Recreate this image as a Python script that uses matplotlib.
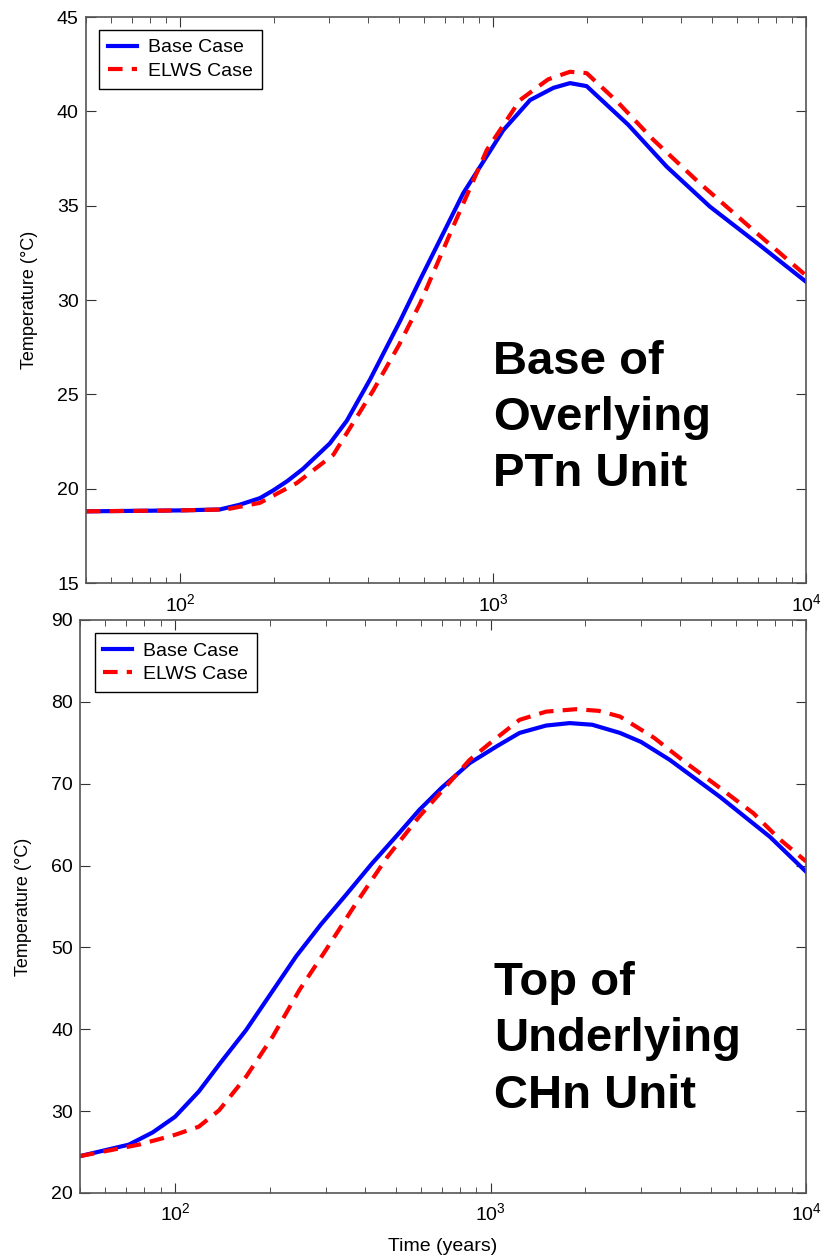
import matplotlib
matplotlib.use("Agg")
import matplotlib.pyplot as plt
from matplotlib.ticker import LogLocator, NullFormatter, MultipleLocator

plt.rcParams['font.family'] = ['Liberation Sans', 'DejaVu Sans']
plt.rcParams['mathtext.fontset'] = 'custom'
plt.rcParams['mathtext.rm'] = 'Liberation Sans'

# top panel: base of overlying PTn unit
t_base_top = [50, 100, 134, 155, 180, 198, 220, 247, 301, 341, 405, 505, 584, 803, 1078, 1313, 1560, 1762, 1991, 2700, 3589, 4933, 7000, 10000]
T_base_top = [18.8, 18.85, 18.9, 19.15, 19.5, 19.9, 20.4, 21.05, 22.4, 23.6, 25.8, 28.9, 31.06, 35.66, 39.0, 40.6, 41.25, 41.5, 41.34, 39.3, 37.07, 34.95, 33.0, 30.97]
t_elws_top = [50, 100, 140, 180, 236, 309, 414, 500, 584, 746, 955, 1219, 1500, 1762, 1991, 2500, 3250, 4500, 6792, 10000]
T_elws_top = [18.8, 18.85, 18.9, 19.25, 20.3, 21.8, 25.2, 27.6, 29.8, 33.9, 37.95, 40.6, 41.7, 42.1, 42.03, 40.5, 38.5, 36.3, 33.7, 31.3]

# bottom panel: top of underlying CHn unit
t_base_bot = [50, 71.4, 85, 100, 119, 140, 168, 200, 242, 290, 348, 420, 514, 595, 700, 858, 1050, 1236, 1500, 1782, 2100, 2572, 3000, 3702, 5333, 7686, 10000]
T_base_bot = [24.5, 25.9, 27.4, 29.3, 32.4, 36.0, 39.9, 44.2, 48.9, 52.8, 56.4, 60.2, 64.0, 66.8, 69.5, 72.5, 74.6, 76.2, 77.1, 77.4, 77.2, 76.2, 75.1, 72.9, 68.4, 63.5, 59.25]
t_elws_bot = [50, 76.8, 100, 119, 138, 168, 204, 248, 301, 375, 470, 595, 858, 1000, 1236, 1500, 1871, 2200, 2572, 3300, 4178, 5200, 6806, 8200, 10000]
T_elws_bot = [24.5, 25.9, 27.1, 28.1, 30.1, 34.2, 39.1, 44.8, 49.7, 55.4, 61.0, 66.0, 72.9, 75.0, 77.8, 78.8, 79.1, 78.9, 78.2, 75.6, 72.5, 69.8, 66.4, 63.3, 60.5]

fig = plt.figure(figsize=(8.25, 12.56), dpi=100)
ax1 = fig.add_axes([0.104, 0.5358, 0.873, 0.4506])
ax2 = fig.add_axes([0.097, 0.0502, 0.880, 0.4562])


def style(ax, ylo, yhi, ystep):
    ax.set_xscale('log')
    ax.set_xlim(50, 1e4)
    ax.set_ylim(ylo, yhi)
    ax.yaxis.set_major_locator(MultipleLocator(ystep))
    ax.xaxis.set_minor_locator(LogLocator(base=10, subs=range(2, 10)))
    ax.xaxis.set_minor_formatter(NullFormatter())
    ax.tick_params(which='both', direction='in', top=True, right=True, colors='#333333', labelcolor='black')
    ax.tick_params(which='major', length=7, labelsize=14)
    ax.tick_params(which='minor', length=4)
    ax.tick_params(axis='x', pad=7)
    ax.tick_params(axis='y', pad=5)
    for s in ax.spines.values():
        s.set_color('#555555')
        s.set_linewidth(1.2)
    ax.set_ylabel('Temperature (°C)', fontsize=13, labelpad=14)


def add_legend(ax, x0):
    ax.legend(loc='upper left', fontsize=14, frameon=True, fancybox=False, edgecolor='black',
              framealpha=1, borderpad=0.45, handlelength=1.5, handletextpad=0.55, labelspacing=0.3,
              borderaxespad=0, bbox_to_anchor=(x0, 0.977))


ax1.plot(t_base_top, T_base_top, color='#0000ff', lw=3, label='Base Case')
ax1.plot(t_elws_top, T_elws_top, color='#ff0000', lw=3, dashes=(3.5, 2.2), label='ELWS Case')
style(ax1, 15, 45, 5)
add_legend(ax1, 0.019)
ax1.text(0.565, 0.2915, 'Base of\nOverlying\nPTn Unit', transform=ax1.transAxes, fontsize=34,
         fontweight='bold', va='center', ha='left', linespacing=1.36)

ax2.plot(t_base_bot, T_base_bot, color='#0000ff', lw=3, label='Base Case')
ax2.plot(t_elws_bot, T_elws_bot, color='#ff0000', lw=3, dashes=(3.5, 2.2), label='ELWS Case')
style(ax2, 20, 90, 10)
add_legend(ax2, 0.02)
ax2.text(0.57, 0.268, 'Top of\nUnderlying\nCHn Unit', transform=ax2.transAxes, fontsize=34,
         fontweight='bold', va='center', ha='left', linespacing=1.36)
ax2.set_xlabel('Time (years)', fontsize=14, labelpad=10)

fig.savefig('out.png', dpi=100)
